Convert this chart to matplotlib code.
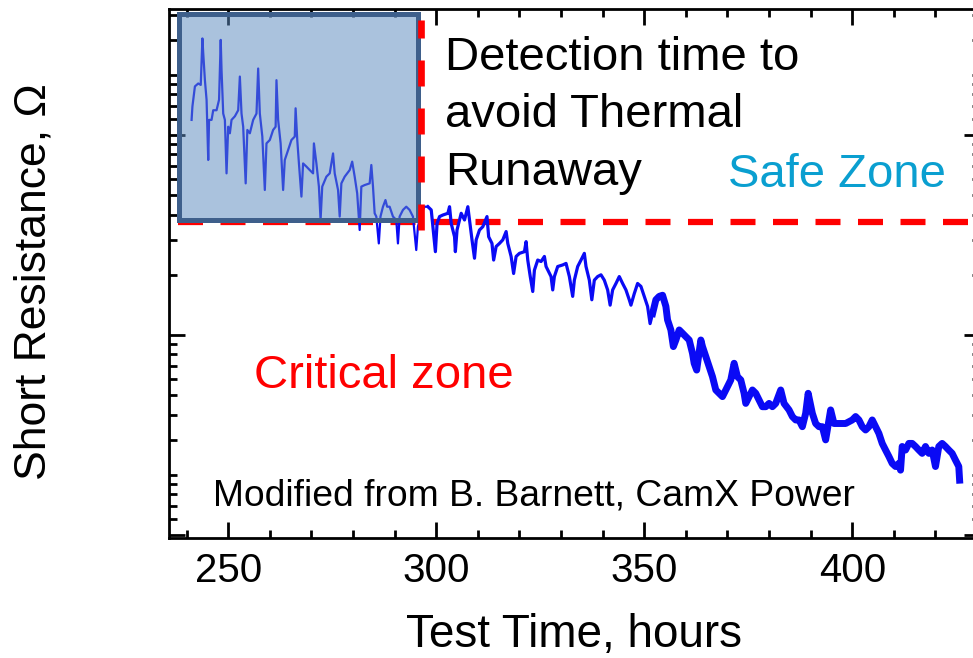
import matplotlib
matplotlib.use("Agg")
import numpy as np
import matplotlib.pyplot as plt
from matplotlib.patches import Rectangle
from matplotlib.ticker import FixedLocator, MultipleLocator, NullFormatter

plt.rcParams["font.family"] = ["Liberation Sans", "DejaVu Sans"]

BLUE = "#0A0AF5"; RED = "#FF0000"; SKY = "#0A9FD0"
BOX_FACE = (0.36, 0.54, 0.75, 0.52); BOX_EDGE = "#3E5F8B"

# test time (hours) and short resistance (ohm)
hours = [241.2, 241.4, 242.0, 242.8, 243.4, 243.8, 244.0, 244.4, 244.8, 245.2, 245.4, 246.0,
         246.4, 247.2, 247.8, 248.2, 248.4, 248.8, 249.2, 249.6, 250.0, 250.4, 250.8, 251.6,
         252.4, 252.8, 253.2, 253.6, 254.2, 254.6, 255.2, 256.0, 256.8, 257.2, 257.6, 258.2,
         258.8, 259.2, 260.0, 260.8, 261.4, 261.6, 262.0, 262.6, 263.2, 263.6, 264.4, 265.2,
         266.0, 266.2, 266.6, 267.0, 267.6, 268.0, 268.8, 269.6, 270.4, 270.6, 271.2, 271.8,
         272.2, 272.6, 273.6, 274.4, 275.2, 275.6, 276.4, 276.8, 277.2, 278.0, 279.2, 279.8,
         280.4, 281.0, 281.6, 282.0, 282.8, 284.0, 284.4, 284.8, 285.2, 285.6, 286.2, 286.6,
         287.2, 287.8, 288.2, 288.8, 289.6, 290.4, 290.8, 291.2, 292.0, 292.8, 293.6, 294.4,
         295.2, 295.6, 296.4, 297.2, 298.0,
         298.8, 299.2, 299.8, 300.2, 300.8, 301.6, 302.8, 303.2, 303.6, 304.4, 304.6, 305.0,
         305.6, 306.0, 306.8, 307.6, 308.0, 308.6, 309.2, 309.6, 310.4, 311.2, 312.2, 312.6,
         313.4, 313.8, 314.4, 315.2, 316.0, 316.8, 317.2, 318.0, 318.6, 319.2, 320.0, 321.2,
         321.6, 322.0, 322.6, 323.2, 323.6, 324.4, 325.2, 326.0, 326.4, 327.6, 328.0, 328.4,
         329.2, 330.4, 331.2, 332.0, 332.8, 333.2, 334.0, 334.8, 335.6, 336.0, 336.8, 337.4,
         338.0, 338.8, 339.6, 340.4, 341.2, 341.8, 342.4, 343.2, 344.0, 344.8, 345.6, 346.4,
         346.8, 347.6, 348.4, 349.2, 350.0, 350.8, 351.4, 352.0, 352.8, 353.6, 354.4, 355.2,
         355.6, 356.4, 357.0, 357.6, 358.4, 359.2, 360.0, 360.8, 361.6, 362.0, 362.6,
         363.6, 364.0, 364.8, 365.6, 366.4, 367.2, 368.0, 368.8, 369.6, 370.8, 371.6, 372.4,
         373.2, 374.0, 374.4, 375.2, 376.0, 376.8, 377.6, 378.4, 379.2, 380.0, 380.8, 381.6,
         382.8, 383.6, 384.8, 385.6, 386.4, 387.2, 388.0, 388.8, 389.4, 390.4, 391.2, 392.0,
         392.8, 393.6, 394.4, 394.8, 395.6, 396.4, 397.2, 398.4, 400.0, 400.8, 401.6, 402.4,
         403.2, 404.0, 404.8, 405.6, 406.4, 407.2, 408.0, 408.8, 409.6, 410.4, 411.2, 411.6,
         412.0, 412.8, 413.6, 414.4, 415.2, 416.0, 416.8, 417.6, 418.4, 419.2, 420.0, 420.8,
         421.6, 422.4, 423.2, 424.0, 424.8, 425.6, 425.8]
res_ohm = [11.9, 13.9, 17.5, 18.1, 17.8, 30.4, 25.6, 18.8, 15.0, 7.50, 11.9, 11.9,
           13.3, 13.3, 15.0, 29.9, 21.1, 12.8, 11.9, 6.43, 11.0, 10.2, 11.9, 12.4,
           13.3, 19.6, 12.8, 11.0, 5.73, 10.6, 10.2, 11.9, 12.8, 21.5, 12.8, 9.82,
           5.31, 9.08, 9.44, 10.6, 11.0, 18.8, 11.9, 9.08, 5.31, 7.50, 8.41, 9.44,
           9.82, 13.6, 9.44, 7.21, 4.92, 7.21, 6.95, 6.68, 6.43, 9.08, 7.21, 5.52,
           3.76, 5.52, 6.19, 6.43, 8.09, 6.43, 5.31, 3.91, 5.73, 6.19, 6.68, 7.36,
           6.19, 5.11, 3.35, 5.52, 5.62, 5.73, 7.08, 5.52, 4.06, 3.91, 2.87, 3.91,
           4.38, 4.73, 4.38, 4.38, 3.91, 3.76, 2.87, 3.91, 4.22, 4.38, 4.22, 3.91,
           2.66, 3.48, 4.06, 4.38, 4.38,
           4.22, 3.48, 2.61, 3.61, 3.91, 3.98, 4.06, 4.38, 3.61, 3.10, 2.61, 3.35,
           3.76, 4.06, 3.76, 4.38, 3.76, 2.99, 2.42, 2.99, 3.35, 3.48, 3.91, 3.10,
           2.87, 2.37, 2.77, 2.87, 2.99, 3.29, 2.87, 2.47, 2.03, 2.47, 2.56, 2.61,
           2.93, 2.37, 1.96, 1.65, 2.11, 2.37, 2.33, 2.47, 2.20, 1.96, 1.68, 1.96,
           2.20, 2.24, 2.28, 1.96, 1.56, 1.88, 2.20, 2.37, 2.56, 2.20, 1.88, 1.50,
           1.88, 1.96, 2.00, 1.88, 1.68, 1.41, 1.68, 1.81, 1.96, 1.81, 1.68, 1.50,
           1.41, 1.61, 1.81, 1.75, 1.56, 1.39, 1.14, 1.28, 1.50, 1.56, 1.58, 1.39,
           1.19, 1.06, 0.875, 0.944, 1.06, 1.02, 0.981, 0.944, 0.809, 0.722, 0.668,
           0.944, 0.875, 0.780, 0.695, 0.619, 0.531, 0.511, 0.492, 0.531, 0.596, 0.722, 0.619,
           0.596, 0.511, 0.455, 0.492, 0.531, 0.511, 0.473, 0.438, 0.438, 0.455, 0.438, 0.455,
           0.531, 0.455, 0.422, 0.391, 0.376, 0.376, 0.348, 0.406, 0.511, 0.406, 0.361, 0.348,
           0.348, 0.299, 0.376, 0.422, 0.361, 0.361, 0.361, 0.361, 0.376, 0.391, 0.376, 0.348,
           0.335, 0.348, 0.376, 0.348, 0.322, 0.287, 0.266, 0.247, 0.228, 0.220, 0.228, 0.211,
           0.277, 0.266, 0.287, 0.287, 0.277, 0.266, 0.256, 0.277, 0.256, 0.266, 0.220, 0.277,
           0.287, 0.277, 0.266, 0.256, 0.237, 0.220, 0.188]

detect_h = 296.4      # detection limit (hours)
critical_r = 3.69     # resistance threshold (ohm)

W, H = 973, 658
fig = plt.figure(figsize=(W / 100, H / 100), dpi=100)
fig.patch.set_facecolor("white")
ax = fig.add_axes([169 / W, 1 - 538 / H, (980 - 169) / W, (538 - 9) / H])

ax.set_yscale("log")
ax.set_xlim(235.77, 430.7)
ax.set_ylim(0.0966, 42.66)

t = np.array(hours); r = np.array(res_ohm)
# thin trace early, heavier band where the signal gets noisy
a = t <= 298.0; b = (t >= 298.0) & (t <= 352.0); c = t >= 352.0
ax.plot(t[a], r[a], color=BLUE, lw=1.6, zorder=3)
ax.plot(t[b], r[b], color=BLUE, lw=2.3, zorder=3)
ax.plot(t[c], r[c], color=BLUE, lw=5.0, zorder=3)

# thresholds
ax.axhline(critical_r, xmin=(178 - 169) / 811, xmax=1, color=RED, lw=4.5,
           dashes=(4.0, 2.8), zorder=2)
ax.add_patch(Rectangle((238.27, 3.74), 295.72 - 238.27, 40.05 - 3.74,
                       facecolor=BOX_FACE, edgecolor=BOX_EDGE, lw=3.6, zorder=4))
ax.axvline(detect_h, ymin=(538 - 230) / 529, ymax=(538 - 20) / 529, color=RED, lw=4.8,
           dashes=(3.9, 3.3), zorder=5)

# axes / ticks
for s in ax.spines.values():
    s.set_linewidth(2.0)
ax.xaxis.set_major_locator(MultipleLocator(50))
ax.xaxis.set_minor_locator(MultipleLocator(10))
ax.yaxis.set_major_locator(FixedLocator([0.1, 1, 10]))
minors = [0.12, 0.14, 0.16, 0.18, 0.2, 0.3, 0.4, 0.5, 0.6, 0.7, 0.8, 0.9,
          2, 3, 4, 5, 6, 7, 8, 9, 12, 14, 16, 18, 20, 30, 40]
ax.yaxis.set_minor_locator(FixedLocator(minors))
ax.yaxis.set_minor_formatter(NullFormatter())
ax.tick_params(which="both", direction="in", top=True, right=True, width=2.0)
ax.tick_params(which="major", length=11.5)
ax.tick_params(which="minor", length=5.8)
ax.tick_params(axis="x", labelsize=29, pad=10)
ax.tick_params(axis="y", labelleft=False)

ax.set_xlabel("Test Time, hours", fontsize=33)
ax.xaxis.label.set_va("baseline")
ax.xaxis.set_label_coords(0.5, (538 - 647) / 529)
ax.set_ylabel("Short Resistance, \u03a9", fontsize=32)
ax.yaxis.label.set_va("baseline")
ax.yaxis.set_label_coords((46 - 169) / 811, (538 - 282) / 529)


def ftext(x, y, s, **kw):
    fig.text(x / W, 1 - y / H, s, va="baseline", ha="left", zorder=6, **kw)


ftext(445, 70, "Detection time to", fontsize=34, color="black")
ftext(445, 127, "avoid Thermal", fontsize=34, color="black")
ftext(445, 185, "Runaway", fontsize=34, color="black")
ftext(728, 187, "Safe Zone", fontsize=34, color=SKY)
ftext(254, 388, "Critical zone", fontsize=34, color=RED)
ftext(213, 506, "Modified from B. Barnett, CamX Power", fontsize=26.8, color="black")

fig.savefig("out.png", dpi=100, facecolor="white")
